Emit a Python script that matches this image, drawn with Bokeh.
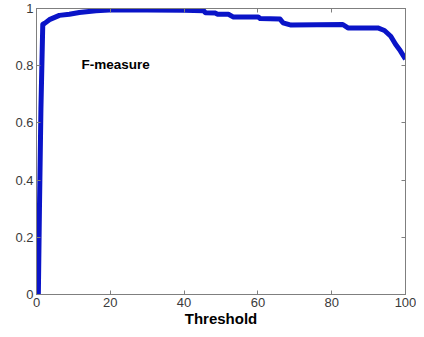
from bokeh.plotting import figure
from bokeh.models import Range1d, LinearAxis, FixedTicker, CustomJSTickFormatter
from bokeh.core.properties import value
from bokeh.embed import file_html
from bokeh.resources import INLINE

threshold = [0, 0.5, 0.8, 1.2, 1.7, 2.2, 3.5, 6.2, 8.9, 11.6, 16.1, 19.7, 30, 40,
             45.3, 45.8, 48.5, 49, 52, 53.4, 60.1, 60.6, 66.0, 66.8, 69, 83, 84.4,
             92.5, 94.3, 96, 97.3, 98.6, 100]
fmeasure = [0, 0, 0.3, 0.65, 0.945, 0.948, 0.961, 0.976, 0.980, 0.986, 0.992, 0.995,
            0.995, 0.994, 0.992, 0.985, 0.984, 0.980, 0.980, 0.970, 0.970, 0.965,
            0.963, 0.950, 0.942, 0.944, 0.932, 0.932, 0.923, 0.903, 0.875, 0.852, 0.823]
x_ticks = [0, 20, 40, 60, 80, 100]
y_ticks = [0, 0.2, 0.4, 0.6, 0.8, 1]
series_label = "F-measure"
x_label = "Threshold"

FONT = "Liberation Sans"
AX = "#7f7f7f"

p = figure(width=416, height=329, output_backend="svg", toolbar_location=None,
           x_range=Range1d(0, 100), y_range=Range1d(0, 1),
           min_border_left=36, min_border_right=11, min_border_top=8,
           min_border_bottom=32)
p.grid.visible = False
p.outline_line_color = AX
p.background_fill_color = "white"

fmt = CustomJSTickFormatter(code="return String(+tick.toFixed(2));")
blank = CustomJSTickFormatter(code="return '';")

for ax, ticks in ((p.xaxis[0], x_ticks), (p.yaxis[0], y_ticks)):
    ax.ticker = FixedTicker(ticks=ticks)
    ax.formatter = fmt
    ax.axis_line_color = AX
    ax.major_tick_line_color = AX
    ax.major_tick_in = 4
    ax.major_tick_out = 0
    ax.minor_tick_line_color = None
    ax.major_label_text_font = FONT
    ax.major_label_text_font_size = "13px"
    ax.major_label_text_color = "#3a3a3a"
    ax.major_label_standoff = 3

p.xaxis[0].axis_label = x_label
p.xaxis[0].axis_label_text_font = FONT
p.xaxis[0].axis_label_text_font_size = "15px"
p.xaxis[0].axis_label_text_font_style = "bold"
p.xaxis[0].axis_label_text_color = "black"
p.xaxis[0].axis_label_standoff = 0

top = LinearAxis(ticker=FixedTicker(ticks=x_ticks), formatter=blank,
                 major_tick_in=4, major_tick_out=0, minor_tick_line_color=None,
                 axis_line_color=AX, major_tick_line_color=AX, major_label_standoff=0)
right = LinearAxis(ticker=FixedTicker(ticks=y_ticks), formatter=blank,
                   major_tick_in=4, major_tick_out=0, minor_tick_line_color=None,
                   axis_line_color=AX, major_tick_line_color=AX, major_label_standoff=0)
p.add_layout(top, "above")
p.add_layout(right, "right")

p.line(threshold, fmeasure, line_color="#0a14c8", line_width=5, line_join="round")

p.text(x=[12.2], y=[0.805], text=[series_label], text_font=value(FONT),
       text_font_size="13.5px", text_font_style="bold", text_color="black",
       text_align="left", text_baseline="middle")

open("out.html", "w").write(file_html(p, INLINE))
